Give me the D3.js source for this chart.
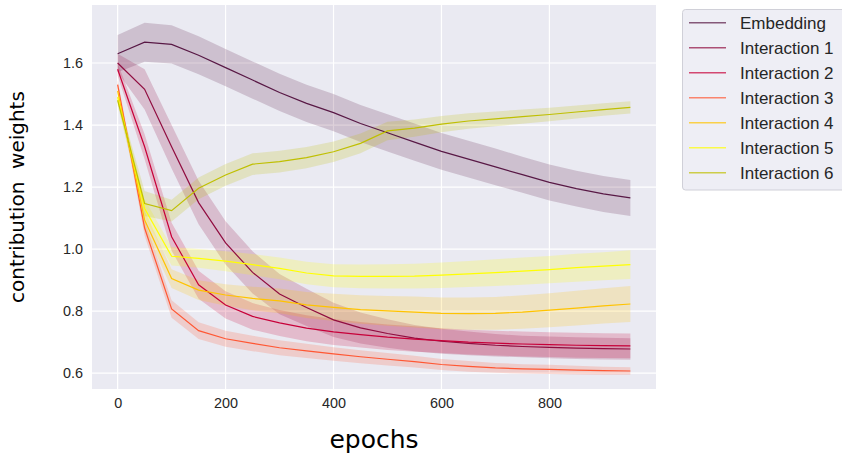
<!DOCTYPE html>
<html>
<head>
<meta charset="utf-8">
<script src="https://cdn.jsdelivr.net/npm/d3@7"></script>
<style>
  body { margin: 0; background: #fff; }
  svg { display: block; }
</style>
</head>
<body>
<script>
// epochs sampled every 50
const epochs = [0,50,100,150,200,250,300,350,400,450,500,550,600,650,700,750,800,850,900,950];

const seriesNames = ["Embedding","Interaction 1","Interaction 2","Interaction 3","Interaction 4","Interaction 5","Interaction 6"];
const seriesColors = ["#581845","#900C3F","#C70039","#FF5733","#FFC300","#FFFF00","#BFBF00"];

// mean values
const embedding = [1.63,1.667,1.66,1.625,1.585,1.545,1.505,1.47,1.44,1.405,1.375,1.345,1.315,1.29,1.265,1.24,1.215,1.195,1.178,1.165];
const inter1 = [1.60,1.515,1.33,1.15,1.02,0.925,0.855,0.812,0.772,0.746,0.728,0.713,0.703,0.696,0.69,0.686,0.683,0.681,0.679,0.678];
const inter2 = [1.58,1.33,1.04,0.885,0.82,0.783,0.762,0.745,0.733,0.724,0.716,0.71,0.705,0.70,0.697,0.694,0.692,0.69,0.689,0.688];
const inter3 = [1.53,1.068,0.807,0.737,0.711,0.696,0.682,0.672,0.662,0.653,0.645,0.637,0.628,0.622,0.617,0.614,0.612,0.61,0.608,0.607];
const inter4 = [1.51,1.094,0.905,0.868,0.852,0.841,0.833,0.82,0.812,0.805,0.801,0.797,0.793,0.792,0.793,0.797,0.803,0.81,0.817,0.823];
const inter5 = [1.49,1.131,0.977,0.97,0.961,0.95,0.938,0.923,0.914,0.912,0.912,0.913,0.916,0.92,0.924,0.929,0.934,0.94,0.945,0.95];
const inter6 = [1.48,1.147,1.124,1.196,1.239,1.274,1.282,1.295,1.314,1.341,1.381,1.39,1.403,1.413,1.42,1.427,1.434,1.442,1.45,1.457];

// half-width of the shaded confidence band
const embeddingCi = [0.06,0.063,0.062,0.061,0.06,0.06,0.06,0.06,0.06,0.06,0.06,0.06,0.059,0.059,0.059,0.058,0.058,0.058,0.058,0.058];
const inter1Ci = [0.03,0.065,0.07,0.07,0.07,0.068,0.065,0.06,0.055,0.05,0.046,0.042,0.04,0.038,0.036,0.035,0.035,0.035,0.035,0.035];
const inter2Ci = [0.02,0.04,0.045,0.045,0.044,0.043,0.042,0.042,0.042,0.041,0.041,0.041,0.04,0.04,0.04,0.04,0.04,0.04,0.04,0.04];
const inter3Ci = [0.015,0.025,0.028,0.027,0.026,0.025,0.024,0.023,0.022,0.021,0.02,0.019,0.018,0.017,0.016,0.015,0.015,0.014,0.013,0.012];
const inter4Ci = [0.015,0.03,0.03,0.032,0.035,0.038,0.04,0.042,0.044,0.046,0.048,0.05,0.051,0.052,0.053,0.054,0.055,0.056,0.057,0.058];
const inter5Ci = [0.015,0.03,0.03,0.03,0.032,0.034,0.035,0.036,0.037,0.038,0.039,0.04,0.041,0.042,0.043,0.044,0.044,0.045,0.045,0.046];
const inter6Ci = [0.015,0.04,0.035,0.035,0.035,0.035,0.035,0.034,0.033,0.032,0.03,0.028,0.026,0.025,0.024,0.023,0.022,0.021,0.02,0.02];

const xTicks = [0,200,400,600,800];
const yTicks = [0.6,0.8,1.0,1.2,1.4,1.6];

const means = [embedding, inter1, inter2, inter3, inter4, inter5, inter6];
const cis = [embeddingCi, inter1Ci, inter2Ci, inter3Ci, inter4Ci, inter5Ci, inter6Ci];

const width = 842, height = 454;
const plot = {left: 92, right: 656, top: 5, bottom: 389};

const svg = d3.select("body").append("svg")
  .attr("width", width)
  .attr("height", height);

const x = d3.scaleLinear().domain([-47.5, 997.5]).range([plot.left, plot.right]);
const y = d3.scaleLinear().domain([0.549, 1.787]).range([plot.bottom, plot.top]);

// axes background
svg.append("rect")
  .attr("x", plot.left).attr("y", plot.top)
  .attr("width", plot.right - plot.left).attr("height", plot.bottom - plot.top)
  .attr("fill", "#eaeaf2");

// grid
svg.append("g").selectAll("line").data(xTicks).join("line")
  .attr("x1", d => x(d)).attr("x2", d => x(d))
  .attr("y1", plot.top).attr("y2", plot.bottom)
  .attr("stroke", "#fff").attr("stroke-width", 1.2);
svg.append("g").selectAll("line").data(yTicks).join("line")
  .attr("x1", plot.left).attr("x2", plot.right)
  .attr("y1", d => y(d)).attr("y2", d => y(d))
  .attr("stroke", "#fff").attr("stroke-width", 1.2);

// tick labels via d3 axes
const xAxis = svg.append("g")
  .attr("transform", `translate(0,${plot.bottom})`)
  .call(d3.axisBottom(x).tickValues(xTicks).tickSize(0).tickPadding(9));
const yAxis = svg.append("g")
  .attr("transform", `translate(${plot.left},0)`)
  .call(d3.axisLeft(y).tickValues(yTicks).tickFormat(d3.format(".1f")).tickSize(0).tickPadding(9));
[xAxis, yAxis].forEach(a => {
  a.select(".domain").remove();
  a.selectAll("text")
    .attr("fill", "#262626")
    .style("font-family", "'Liberation Sans', Arial, sans-serif")
    .style("font-size", "14.4px");
});

// bands then lines
const area = d3.area()
  .x((d, i) => x(epochs[i]))
  .y0(d => y(d[0] - d[1]))
  .y1(d => y(d[0] + d[1]));
const line = d3.line()
  .x((d, i) => x(epochs[i]))
  .y(d => y(d));

means.forEach((m, k) => {
  svg.append("path")
    .datum(m.map((v, i) => [v, cis[k][i]]))
    .attr("d", area)
    .attr("fill", seriesColors[k])
    .attr("fill-opacity", 0.2);
});
means.forEach((m, k) => {
  svg.append("path")
    .datum(m)
    .attr("d", line)
    .attr("fill", "none")
    .attr("stroke", seriesColors[k])
    .attr("stroke-width", 1.2);
});

// axis labels
svg.append("text")
  .attr("x", (plot.left + plot.right) / 2).attr("y", 448)
  .attr("text-anchor", "middle")
  .attr("fill", "#000")
  .style("font-family", "'DejaVu Sans', sans-serif")
  .style("font-size", "25px")
  .text("epochs");
svg.append("text")
  .attr("transform", `translate(24,${(plot.top + plot.bottom) / 2}) rotate(-90)`)
  .attr("text-anchor", "middle")
  .attr("fill", "#000")
  .style("font-family", "'DejaVu Sans', sans-serif")
  .style("font-size", "20px")
  .style("white-space", "pre")
  .text("contribution  weights");

// legend
const legend = svg.append("g");
legend.append("rect")
  .attr("x", 682.5).attr("y", 9.5)
  .attr("width", 170).attr("height", 180.5)
  .attr("rx", 3)
  .attr("fill", "#eaeaf2")
  .attr("fill-opacity", 0.8)
  .attr("stroke", "#d0d0d8");
seriesNames.forEach((name, k) => {
  const cy = 22.7 + k * 25;
  legend.append("line")
    .attr("x1", 689).attr("x2", 726)
    .attr("y1", cy).attr("y2", cy)
    .attr("stroke", seriesColors[k])
    .attr("stroke-opacity", 0.7)
    .attr("stroke-width", 1.6);
  legend.append("text")
    .attr("x", 740).attr("y", cy)
    .attr("dy", "0.35em")
    .attr("fill", "#262626")
    .style("font-family", "'Liberation Sans', Arial, sans-serif")
    .style("font-size", "17px")
    .text(name);
});
</script>
</body>
</html>
